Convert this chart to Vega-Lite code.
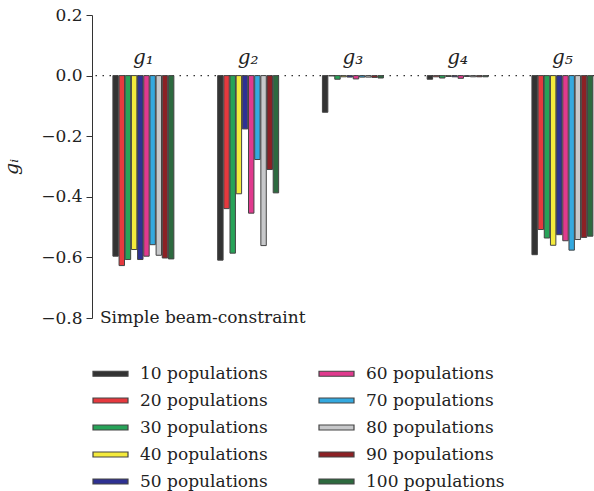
{
  "$schema": "https://vega.github.io/schema/vega-lite/v6.json",
  "width": 502,
  "height": 303,
  "autosize": "none",
  "padding": {"left": 92, "top": 15, "right": 0, "bottom": 173},
  "background": "white",
  "config": {"view": {"stroke": null}, "font": "DejaVu Serif"},
  "datasets": {
    "bars": [
      {"group": "g1", "pop": "10 populations", "n": 10, "value": -0.596},
      {"group": "g1", "pop": "20 populations", "n": 20, "value": -0.627},
      {"group": "g1", "pop": "30 populations", "n": 30, "value": -0.607},
      {"group": "g1", "pop": "40 populations", "n": 40, "value": -0.574},
      {"group": "g1", "pop": "50 populations", "n": 50, "value": -0.607},
      {"group": "g1", "pop": "60 populations", "n": 60, "value": -0.596},
      {"group": "g1", "pop": "70 populations", "n": 70, "value": -0.558},
      {"group": "g1", "pop": "80 populations", "n": 80, "value": -0.593},
      {"group": "g1", "pop": "90 populations", "n": 90, "value": -0.602},
      {"group": "g1", "pop": "100 populations", "n": 100, "value": -0.605},
      {"group": "g2", "pop": "10 populations", "n": 10, "value": -0.609},
      {"group": "g2", "pop": "20 populations", "n": 20, "value": -0.439},
      {"group": "g2", "pop": "30 populations", "n": 30, "value": -0.586},
      {"group": "g2", "pop": "40 populations", "n": 40, "value": -0.39},
      {"group": "g2", "pop": "50 populations", "n": 50, "value": -0.176},
      {"group": "g2", "pop": "60 populations", "n": 60, "value": -0.454},
      {"group": "g2", "pop": "70 populations", "n": 70, "value": -0.277},
      {"group": "g2", "pop": "80 populations", "n": 80, "value": -0.561},
      {"group": "g2", "pop": "90 populations", "n": 90, "value": -0.31},
      {"group": "g2", "pop": "100 populations", "n": 100, "value": -0.387},
      {"group": "g3", "pop": "10 populations", "n": 10, "value": -0.121},
      {"group": "g3", "pop": "20 populations", "n": 20, "value": -0.001},
      {"group": "g3", "pop": "30 populations", "n": 30, "value": -0.012},
      {"group": "g3", "pop": "40 populations", "n": 40, "value": -0.004},
      {"group": "g3", "pop": "50 populations", "n": 50, "value": -0.005},
      {"group": "g3", "pop": "60 populations", "n": 60, "value": -0.011},
      {"group": "g3", "pop": "70 populations", "n": 70, "value": -0.005},
      {"group": "g3", "pop": "80 populations", "n": 80, "value": -0.005},
      {"group": "g3", "pop": "90 populations", "n": 90, "value": -0.006},
      {"group": "g3", "pop": "100 populations", "n": 100, "value": -0.008},
      {"group": "g4", "pop": "10 populations", "n": 10, "value": -0.012},
      {"group": "g4", "pop": "20 populations", "n": 20, "value": -0.004},
      {"group": "g4", "pop": "30 populations", "n": 30, "value": -0.008},
      {"group": "g4", "pop": "40 populations", "n": 40, "value": -0.003},
      {"group": "g4", "pop": "50 populations", "n": 50, "value": -0.004},
      {"group": "g4", "pop": "60 populations", "n": 60, "value": -0.009},
      {"group": "g4", "pop": "70 populations", "n": 70, "value": -0.003},
      {"group": "g4", "pop": "80 populations", "n": 80, "value": -0.004},
      {"group": "g4", "pop": "90 populations", "n": 90, "value": -0.004},
      {"group": "g4", "pop": "100 populations", "n": 100, "value": -0.004},
      {"group": "g5", "pop": "10 populations", "n": 10, "value": -0.591},
      {"group": "g5", "pop": "20 populations", "n": 20, "value": -0.508},
      {"group": "g5", "pop": "30 populations", "n": 30, "value": -0.536},
      {"group": "g5", "pop": "40 populations", "n": 40, "value": -0.56},
      {"group": "g5", "pop": "50 populations", "n": 50, "value": -0.525},
      {"group": "g5", "pop": "60 populations", "n": 60, "value": -0.545},
      {"group": "g5", "pop": "70 populations", "n": 70, "value": -0.576},
      {"group": "g5", "pop": "80 populations", "n": 80, "value": -0.541},
      {"group": "g5", "pop": "90 populations", "n": 90, "value": -0.534},
      {"group": "g5", "pop": "100 populations", "n": 100, "value": -0.53}
    ],
    "groups": [
      {"group": "g1", "label": "g₁"},
      {"group": "g2", "label": "g₂"},
      {"group": "g3", "label": "g₃"},
      {"group": "g4", "label": "g₄"},
      {"group": "g5", "label": "g₅"}
    ],
    "note": [{"label": "Simple beam-constraint"}]
  },
  "layer": [
    {
      "data": {"name": "note"},
      "mark": {"type": "rule", "strokeDash": [1.5, 5.5], "color": "#333", "strokeWidth": 1.2},
      "encoding": {
        "y": {"datum": 0, "type": "quantitative", "scale": {"domain": [-0.8, 0.2], "nice": false, "zero": false}}
      }
    },
    {
      "data": {"name": "bars"},
      "mark": {"type": "bar", "stroke": "#444", "strokeWidth": 1, "opacity": 1},
      "encoding": {
        "x": {
          "field": "group", "type": "nominal",
          "scale": {"domain": ["g1", "g2", "g3", "g4", "g5"], "paddingInner": 0.418, "paddingOuter": 0.105, "align": 0.95},
          "axis": null
        },
        "xOffset": {"field": "pop", "type": "nominal", "sort": {"field": "n"}, "scale": {"paddingInner": 0.12}},
        "y": {
          "field": "value", "type": "quantitative", "stack": null,
          "scale": {"domain": [-0.8, 0.2], "nice": false, "zero": false},
          "axis": {
            "title": "gᵢ", "titleFont": "DejaVu Serif", "titleFontStyle": "italic", "titleFontSize": 19,
            "titleFontWeight": "normal", "titleColor": "#222", "titlePadding": 19,
            "values": [0.2, 0, -0.2, -0.4, -0.6, -0.8], "format": ".1f",
            "labelFont": "DejaVu Serif", "labelFontSize": 17, "labelColor": "#222", "labelPadding": 4,
            "tickSize": 6, "tickColor": "#333", "domainColor": "#333", "grid": false
          }
        },
        "color": {
          "field": "pop", "type": "nominal",
          "scale": {
            "domain": ["10 populations", "20 populations", "30 populations", "40 populations", "50 populations", "60 populations", "70 populations", "80 populations", "90 populations", "100 populations"],
            "range": ["#333333", "#e6393e", "#27a358", "#f4ea3c", "#2e3192", "#e03a8e", "#34a9df", "#c7c8ca", "#8c2125", "#2d6a3f"]
          },
          "legend": {
            "orient": "none", "legendX": 0, "legendY": 340, "columns": 2, "title": null, "padding": 0,
            "symbolType": "M-1,-0.143H1V0.143H-1Z", "symbolSize": 1225, "symbolStrokeColor": "#444", "symbolStrokeWidth": 1.2,
            "symbolOpacity": 1,
            "labelFont": "DejaVu Serif", "labelFontSize": 17, "labelColor": "#222", "labelOffset": 11,
            "rowPadding": -12.5, "columnPadding": 48
          }
        }
      }
    },
    {
      "data": {"name": "groups"},
      "mark": {"type": "text", "dy": -12, "baseline": "alphabetic", "fontStyle": "italic", "fontSize": 20, "font": "DejaVu Serif", "color": "#222"},
      "encoding": {
        "x": {"field": "group", "type": "nominal", "scale": {"domain": ["g1", "g2", "g3", "g4", "g5"]}, "axis": null},
        "y": {"datum": 0, "type": "quantitative"},
        "text": {"field": "label"}
      }
    },
    {
      "data": {"name": "note"},
      "mark": {"type": "text", "align": "left", "baseline": "middle", "dx": -13, "fontSize": 17, "font": "DejaVu Serif", "color": "#222"},
      "encoding": {
        "x": {"datum": "g1", "type": "nominal", "bandPosition": 0},
        "y": {"datum": -0.8, "type": "quantitative"},
        "text": {"field": "label"}
      }
    }
  ]
}
